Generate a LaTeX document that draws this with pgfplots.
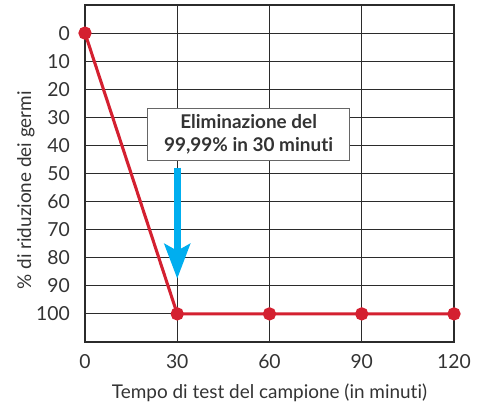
\documentclass[border=0pt]{standalone}
\usepackage{pgfplots}
\pgfplotsset{compat=1.18}
\usepackage{fontspec}
\setmainfont{Lato}[Ligatures={NoCommon}]
\usetikzlibrary{arrows.meta}
\definecolor{txt}{HTML}{333333}
\definecolor{gridc}{HTML}{2B2B2B}
\definecolor{redl}{HTML}{D42030}
\definecolor{cyanarr}{HTML}{00AEEF}
\begin{document}
\begin{tikzpicture}
\begin{axis}[
  scale only axis,
  width=276.75pt, height=252.75pt,
  xmin=0, xmax=120, ymin=-10, ymax=110,
  y dir=reverse,
  xtick={0,30,60,90,120},
  ytick={0,10,20,30,40,50,60,70,80,90,100},
  major tick length=0pt,
  grid=major,
  major grid style={gridc, line width=0.8pt},
  axis line style={gridc, line width=0.9pt},
  /pgf/number format/assume math mode=true,
  ticklabel style={font=\fontsize{14.5}{16}\selectfont, text=txt},
  yticklabel style={anchor=east, inner sep=0pt, xshift=-11.25pt},
  xticklabel style={anchor=north, inner sep=0pt, yshift=-9pt},
  xlabel={Tempo di test del campione (in minuti)},
  ylabel={\% di riduzione dei germi},
  label style={font=\fontsize{14.2}{16}\selectfont, text=txt},
  xlabel style={at={(axis description cs:0.5,-0.151)}, anchor=center},
  ylabel style={at={(axis description cs:-0.16,0.45)}, anchor=center},
  clip=false,
]
\addplot[redl, line width=2.3pt, mark=*, mark size=3.8pt, mark options={fill=redl, draw=redl}]
  coordinates {(0,0) (30,99.99) (60,99.99) (90,99.99) (120,99.99)};
\draw[cyanarr, line width=5.25pt, -{Stealth[width=19pt, length=26pt, inset=5pt]}] (axis cs:30,47.9) -- (axis cs:30,87.5);
\node[draw=gray!80!black, line width=0.7pt, fill=white, minimum width=152pt, minimum height=39pt, align=center, inner sep=2pt, text=txt, font=\fontsize{14.2}{17}\selectfont\bfseries] at (axis cs:53.2,36.1) {Eliminazione del\\99,99\% in 30 minuti};
\end{axis}
\useasboundingbox (-63.75pt,-48.75pt) rectangle (296.25pt,256.5pt);
\end{tikzpicture}
\end{document}
